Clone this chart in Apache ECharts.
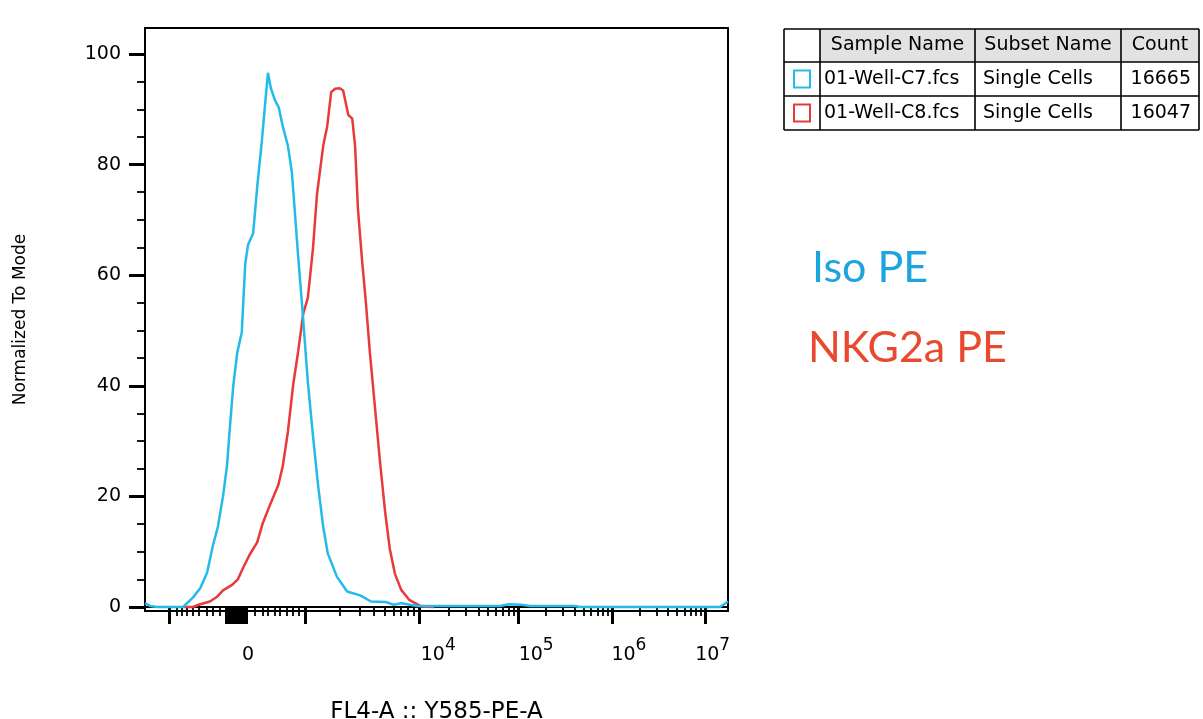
<!DOCTYPE html>
<html>
<head>
<meta charset="utf-8">
<title>Histogram</title>
<script src="https://cdn.jsdelivr.net/npm/echarts@6/dist/echarts.min.js"></script>
<style>
  html, body { margin: 0; padding: 0; background: #fff; }
  #main { width: 1203px; height: 719px; }
</style>
</head>
<body>
<div id="main"></div>
<script>
// x values are display channels (0-1024) on the biexponential FL4-A scale
var isoX = [0, 9, 21, 49, 67, 84, 97, 109, 119, 128, 137, 144, 149, 155, 162, 170, 176, 181, 190, 197, 205, 211, 216, 221, 228, 235, 242, 251, 258, 263, 269, 276, 281, 286, 295, 304, 313, 321, 337, 355, 378, 397, 423, 437, 450, 478, 518, 588, 624, 639, 660, 676, 755, 764, 1010, 1024];
var isoY = [0.7, 0.2, 0, 0, 0, 1.7, 3.4, 6.2, 11, 14.5, 20, 25.5, 32.4, 40, 46, 49.7, 62, 65.5, 67.6, 75.9, 84, 91, 96.6, 93.8, 91.7, 90.3, 86.9, 83.4, 78.6, 71.7, 63.4, 54.5, 47.6, 40.7, 31, 22, 14.5, 9.7, 5.5, 2.8, 2.1, 1.0, 0.9, 0.4, 0.7, 0.2, 0.2, 0.2, 0.2, 0.5, 0.4, 0.2, 0.2, 0, 0, 1];
var nkgX = [67, 84, 97, 114, 126, 137, 153, 163, 172, 184, 197, 207, 220, 234, 242, 251, 260, 269, 278, 286, 295, 302, 307, 313, 320, 327, 334, 342, 348, 357, 364, 369, 374, 381, 388, 395, 404, 413, 422, 430, 439, 450, 464, 485, 508];
var nkgY = [0, 0, 0.5, 1, 1.8, 3, 4, 5, 7, 9.5, 11.7, 15.2, 18.6, 22, 25.5, 31.7, 40, 46.2, 53.1, 55.9, 64.8, 74.5, 78.6, 83.4, 86.9, 93.1, 93.7, 93.8, 93.4, 89, 88.3, 83.4, 72, 63, 55, 46, 36, 26, 17, 10.5, 6, 3.1, 1.3, 0.1, 0];

// axis ticks
var yMajorTicks = [0, 20, 40, 60, 80, 100];
var yMinorTicks = [5, 10, 15, 25, 30, 35, 45, 50, 55, 65, 70, 75, 85, 90, 95];
var xMajorTicks = [42, 163, 281, 481, 655, 820, 984];   // -10^3, 0, 10^3 ... 10^7
var xZeroTicks = [142, 145, 148, 151, 154, 157, 160, 166, 169, 172, 175, 178];
var xLinearMinor = [56, 65, 74, 83, 95, 109, 119, 132, 193, 206, 216, 228, 237, 249, 260, 270];
var xTickLabels = ['0', '10^4', '10^5', '10^6', '10^7'];
var xLabelPos = [181, 515, 687, 850, 997];

var tableHead = ['Sample Name', 'Subset Name', 'Count'];
var tableRows = [
  ['01-Well-C7.fcs', 'Single Cells', '16665'],
  ['01-Well-C8.fcs', 'Single Cells', '16047']
];
var seriesNames = ['Iso PE', 'NKG2a PE'];
var seriesColors = ['#22bbea', '#e63a3b'];
var noteColors = ['#1ca4df', '#e84a30'];

// log minor ticks inside each decade from 10^3 up
var xLogMinor = [];
for (var d = 2; d + 1 < xMajorTicks.length; d++) {
  var a = xMajorTicks[d], b = xMajorTicks[d + 1];
  for (var k = 2; k <= 9; k++) xLogMinor.push(+(a + Math.log10(k) * (b - a)).toFixed(1));
}

function pairs(xs, ys) {
  return xs.map(function (x, i) { return [x, ys[i]]; });
}

var font = 'DejaVu Sans';
var myChart = echarts.init(document.getElementById('main'));

// legend table drawn with graphic elements
var colX = [784, 820, 975, 1121, 1199];
var rowY = [29, 62, 96, 130];
var tf = '19px "' + font + '"';
var graphic = [];
for (var c = 1; c < 4; c++) {
  graphic.push({ type: 'rect', shape: { x: colX[c], y: rowY[0], width: colX[c + 1] - colX[c], height: rowY[1] - rowY[0] },
    style: { fill: '#e2e2e2' } });
}
rowY.forEach(function (y) {
  graphic.push({ type: 'line', shape: { x1: colX[0], y1: y, x2: colX[4], y2: y }, style: { stroke: '#000', lineWidth: 1.6 } });
});
colX.forEach(function (x) {
  graphic.push({ type: 'line', shape: { x1: x, y1: rowY[0], x2: x, y2: rowY[3] }, style: { stroke: '#000', lineWidth: 1.6 } });
});
tableHead.forEach(function (t, i) {
  graphic.push({ type: 'text', x: (colX[i + 1] + colX[i + 2]) / 2, y: (rowY[0] + rowY[1]) / 2,
    style: { text: t, font: tf, fill: '#000', align: 'center', verticalAlign: 'middle' } });
});
tableRows.forEach(function (row, r) {
  var cy = (rowY[r + 1] + rowY[r + 2]) / 2;
  graphic.push({ type: 'rect', shape: { x: 794, y: cy - 8.5, width: 16, height: 17 },
    style: { fill: '#fff', stroke: seriesColors[r], lineWidth: 2 } });
  graphic.push({ type: 'text', x: colX[1] + 4, y: cy,
    style: { text: row[0], font: tf, fill: '#000', align: 'left', verticalAlign: 'middle' } });
  graphic.push({ type: 'text', x: colX[2] + 8, y: cy,
    style: { text: row[1], font: tf, fill: '#000', align: 'left', verticalAlign: 'middle' } });
  graphic.push({ type: 'text', x: colX[4] - 8, y: cy,
    style: { text: row[2], font: tf, fill: '#000', align: 'right', verticalAlign: 'middle' } });
});
// sample notes
graphic.push({ type: 'text', x: 812, y: 268,
  style: { text: seriesNames[0], font: '43px Lato', fill: noteColors[0], align: 'left', verticalAlign: 'middle' } });
graphic.push({ type: 'text', x: 808, y: 348,
  style: { text: seriesNames[1], font: '43px Lato', fill: noteColors[1], align: 'left', verticalAlign: 'middle' } });

var option = {
  animation: false,
  backgroundColor: '#fff',
  grid: { left: 145, top: 28, right: 475, bottom: 108, outerBoundsMode: 'none', containLabel: false,
    show: true, borderColor: '#000', borderWidth: 2 },
  xAxis: [
    {
      type: 'value', position: 'bottom', min: 0, max: 1024,
      name: 'FL4-A :: Y585-PE-A', nameLocation: 'middle', nameGap: 90,
      nameTextStyle: { fontFamily: font, fontSize: 23, color: '#000' },
      axisLine: { lineStyle: { color: '#000', width: 2 } },
      axisTick: { customValues: xMajorTicks.concat(xZeroTicks), length: 17, lineStyle: { color: '#000', width: 3 } },
      axisLabel: { show: false },
      splitLine: { show: false }
    },
    {
      type: 'value', position: 'bottom', min: 0, max: 1024,
      axisLine: { show: false },
      axisTick: { customValues: xLinearMinor.concat(xLogMinor), length: 9, lineStyle: { color: '#000', width: 1.8 } },
      axisLabel: { show: false },
      splitLine: { show: false }
    },
    {
      type: 'value', position: 'bottom', min: 0, max: 1024,
      axisLine: { show: false },
      axisTick: { show: false },
      splitLine: { show: false },
      axisLabel: {
        customValues: xLabelPos, margin: 26,
        formatter: function (v) {
          var t = xTickLabels[xLabelPos.indexOf(v)] || '';
          var p = t.split('^');
          return p.length > 1 ? '{b|' + p[0] + '}{s|' + p[1] + '}' : '{b|' + t + '}';
        },
        rich: {
          b: { fontFamily: font, fontSize: 19, lineHeight: 36, color: '#000', verticalAlign: 'middle' },
          s: { fontFamily: font, fontSize: 17, lineHeight: 10, color: '#000', verticalAlign: 'top' }
        }
      }
    }
  ],
  yAxis: [
    {
      type: 'value', position: 'left', min: -0.72, max: 104.7,
      name: 'Normalized To Mode', nameLocation: 'middle', nameGap: 116,
      nameTextStyle: { fontFamily: font, fontSize: 17, color: '#000' },
      axisLine: { show: true, lineStyle: { color: '#000', width: 2 } },
      axisTick: { customValues: yMajorTicks, length: 16, lineStyle: { color: '#000', width: 3 } },
      axisLabel: { customValues: yMajorTicks, margin: 24, fontFamily: font, fontSize: 19, color: '#000' },
      splitLine: { show: false }
    },
    {
      type: 'value', position: 'left', min: -0.72, max: 104.7,
      axisLine: { show: false },
      axisTick: { customValues: yMinorTicks, length: 8, lineStyle: { color: '#000', width: 1.8 } },
      axisLabel: { show: false },
      splitLine: { show: false }
    }
  ],
  graphic: graphic,
  series: [
    {
      name: seriesNames[0], type: 'line', showSymbol: false, symbol: 'none',
      data: pairs(isoX, isoY),
      lineStyle: { color: seriesColors[0], width: 2.5 }, z: 3
    },
    {
      name: seriesNames[1], type: 'line', showSymbol: false, symbol: 'none',
      data: pairs(nkgX, nkgY),
      lineStyle: { color: seriesColors[1], width: 2.5 }, z: 2
    }
  ]
};
myChart.setOption(option);
</script>
</body>
</html>
